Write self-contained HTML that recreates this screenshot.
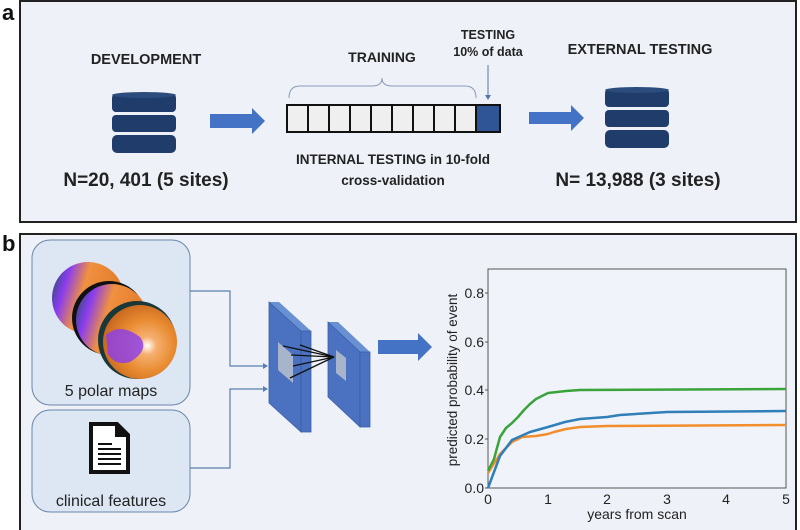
<!DOCTYPE html>
<html><head><meta charset="utf-8"><style>
html,body{margin:0;padding:0;background:#fff;}
svg{display:block;font-family:"Liberation Sans",sans-serif;}
</style></head><body>
<svg width="800" height="530" viewBox="0 0 800 530" xmlns="http://www.w3.org/2000/svg">
<defs>
<radialGradient id="pm" cx="0.6" cy="0.55" r="0.6">
<stop offset="0" stop-color="#fff"/><stop offset="0.2" stop-color="#f6b070"/><stop offset="0.6" stop-color="#e88a30"/><stop offset="1" stop-color="#c86820"/></radialGradient>
<linearGradient id="pm2" x1="0" y1="0" x2="1" y2="0.3">
<stop offset="0" stop-color="#1a5050"/><stop offset="0.25" stop-color="#8a3cf0"/><stop offset="0.5" stop-color="#f09040"/><stop offset="1" stop-color="#e07a28"/></linearGradient>
<g id="db">
<rect x="0" y="0" width="64" height="18" rx="4" fill="#1f3c6a"/>
<ellipse cx="32" cy="1" rx="32" ry="3" fill="#2d4c7e"/>
<rect x="0" y="21" width="64" height="17" rx="4" fill="#1f3c6a"/>
<rect x="0" y="41" width="64" height="18" rx="5" fill="#1f3c6a"/>
</g>
</defs>
<rect width="800" height="530" fill="#fff"/>
<!-- panel a -->
<text x="2" y="20" font-size="22" font-weight="bold" fill="#111">a</text>
<rect x="20" y="1" width="776" height="221" fill="#eef2f8" stroke="#222" stroke-width="2"/>
<text x="146" y="64" font-size="14.5" font-weight="bold" text-anchor="middle" fill="#222">DEVELOPMENT</text>
<use href="#db" x="112" y="94"/>
<polygon points="210,114 252,114 252,108 265,121 252,134 252,128 210,128" fill="#4472c4"/>
<text x="146" y="186" font-size="19" font-weight="bold" text-anchor="middle" fill="#222">N=20, 401 (5 sites)</text>
<text x="382" y="62" font-size="14" font-weight="bold" text-anchor="middle" fill="#222">TRAINING</text>
<path d="M289,98 Q289,86 300,86 L372,86 Q382,86 382,78 Q382,86 392,86 L465,86 Q476,86 476,98" fill="none" stroke="#8899bb" stroke-width="1"/>
<text x="488" y="39" font-size="12.5" font-weight="bold" text-anchor="middle" fill="#222">TESTING</text>
<text x="488" y="56" font-size="12.5" font-weight="bold" text-anchor="middle" fill="#222">10% of data</text>
<line x1="488" y1="65" x2="488" y2="96" stroke="#5577aa" stroke-width="1"/>
<polygon points="485,95 491,95 488,100" fill="#5577aa"/>
<g stroke="#111" stroke-width="2" fill="#efefef">
<rect x="287" y="105" width="21" height="27"/><rect x="308" y="105" width="21" height="27"/><rect x="329" y="105" width="21" height="27"/><rect x="350" y="105" width="21" height="27"/><rect x="371" y="105" width="21" height="27"/><rect x="392" y="105" width="21" height="27"/><rect x="413" y="105" width="21" height="27"/><rect x="434" y="105" width="21" height="27"/><rect x="455" y="105" width="21" height="27"/>
<rect x="476" y="105" width="24" height="27" fill="#2f5597"/>
</g>
<text x="393" y="164" font-size="13.5" font-weight="bold" text-anchor="middle" fill="#222">INTERNAL TESTING in 10-fold</text>
<text x="393" y="185" font-size="13.5" font-weight="bold" text-anchor="middle" fill="#222">cross-validation</text>
<polygon points="529,112 571,112 571,105 584,118 571,131 571,124 529,124" fill="#4472c4"/>
<text x="640" y="54" font-size="14.5" font-weight="bold" text-anchor="middle" fill="#222">EXTERNAL TESTING</text>
<use href="#db" x="605" y="89"/>
<text x="638" y="186" font-size="19" font-weight="bold" text-anchor="middle" fill="#222">N= 13,988 (3 sites)</text>
<!-- panel b -->
<text x="2" y="251" font-size="22" font-weight="bold" fill="#111">b</text>
<rect x="20" y="234" width="776" height="300" fill="#eef2f8" stroke="#222" stroke-width="2"/>
<rect x="32" y="240" width="158" height="165" rx="18" fill="#dce7f3" stroke="#6a86a8" stroke-width="1"/>
<rect x="32" y="410" width="158" height="102" rx="18" fill="#dce7f3" stroke="#6a86a8" stroke-width="1"/>
<circle cx="88" cy="298" r="36" fill="url(#pm2)"/>
<circle cx="109" cy="318" r="37" fill="#111"/>
<circle cx="112" cy="320" r="36" fill="url(#pm2)"/>
<circle cx="137" cy="340" r="39" fill="#1a3838"/>
<circle cx="140" cy="342" r="37" fill="url(#pm)"/>
<path d="M106,335 Q120,322 140,337 Q150,350 130,362 Q115,366 108,354Z" fill="#8a3cf0" opacity="0.8"/>
<text x="111" y="396" font-size="16" text-anchor="middle" fill="#222">5 polar maps</text>
<path d="M91,424 L117,424 L128,435 L128,472 L91,472 Z" fill="#fff" stroke="#111" stroke-width="4"/>
<path d="M115,424 L115,437 L128,437" fill="#111"/>
<g stroke="#111" stroke-width="2"><line x1="98" y1="444" x2="112" y2="444"/><line x1="98" y1="449" x2="121" y2="449"/><line x1="98" y1="454" x2="121" y2="454"/><line x1="98" y1="459" x2="121" y2="459"/><line x1="98" y1="464" x2="121" y2="464"/></g>
<text x="111" y="506" font-size="16" text-anchor="middle" fill="#222">clinical features</text>
<g fill="none" stroke="#5a7fae" stroke-width="1.2">
<polyline points="190,291 230,291 230,366 266,366"/>
<polyline points="190,468 230,468 230,389 266,389"/>
</g>
<polygon points="263,363 268,366 263,369" fill="#5a7fae"/>
<polygon points="263,386 268,389 263,392" fill="#5a7fae"/>
<!-- layer 1 -->
<polygon points="269,302 301,331 311,331 279,302" fill="#6a90d4"/>
<polygon points="269,302 301,331 301,432 269,403" fill="#4a72c0" stroke="#3a5ea8" stroke-width="0.8"/>
<rect x="301" y="331" width="10" height="101" fill="#4a72c0" stroke="#3a5ea8" stroke-width="0.8"/>
<polygon points="278,342 293,355 293,383 278,370" fill="#a8b4cc"/>
<!-- layer 2 -->
<polygon points="328,322 360,352 370,352 338,322" fill="#6a90d4"/>
<polygon points="328,322 360,352 360,427 328,397" fill="#4a72c0" stroke="#3a5ea8" stroke-width="0.8"/>
<rect x="360" y="352" width="10" height="75" fill="#4a72c0" stroke="#3a5ea8" stroke-width="0.8"/>
<polygon points="336,350 346,358 346,381 336,373" fill="#a8b4cc"/>
<g stroke="#111" stroke-width="1.3"><line x1="283" y1="346" x2="334" y2="357"/><line x1="291" y1="355" x2="334" y2="357"/><line x1="293" y1="366" x2="334" y2="357"/><line x1="290" y1="378" x2="334" y2="357"/><line x1="300" y1="345" x2="334" y2="357"/></g>
<polygon points="378,340 418,340 418,333 432,347 418,361 418,354 378,354" fill="#4472c4"/>
<!-- chart -->
<rect x="488" y="269" width="298" height="219" fill="#f0f3fa" stroke="#555" stroke-width="1"/>
<g font-size="14" fill="#222" text-anchor="end">
<text x="484" y="298">0.8</text><text x="484" y="347">0.6</text><text x="484" y="395">0.4</text><text x="484" y="444">0.2</text><text x="484" y="493">0.0</text>
</g>
<g stroke="#555"><line x1="485" y1="293" x2="488" y2="293"/><line x1="485" y1="342" x2="488" y2="342"/><line x1="485" y1="390" x2="488" y2="390"/><line x1="485" y1="439" x2="488" y2="439"/><line x1="485" y1="488" x2="488" y2="488"/></g>
<g font-size="14" fill="#222" text-anchor="middle">
<text x="488" y="504">0</text><text x="548" y="504">1</text><text x="607" y="504">2</text><text x="667" y="504">3</text><text x="726" y="504">4</text><text x="786" y="504">5</text>
</g>
<text x="637" y="519" font-size="14" text-anchor="middle" fill="#222">years from scan</text>
<text transform="translate(457,380) rotate(-90)" font-size="13.5" text-anchor="middle" fill="#222">predicted probability of event</text>
<g fill="none" stroke-width="2.5" stroke-linejoin="round">
<polyline stroke="#f28e2b" points="488,473 500,454 512,442 522,437 536,436 548,434 554,432 566,429 580,427 607,426 786,425"/>
<polyline stroke="#2f7fb8" points="488,488 500,456 512,440 530,432 548,427 565,422 580,419 607,417 620,415 667,412 786,411"/>
<polyline stroke="#3aa33a" points="488,471 494,459 500,437 506,428 512,423 518,417 524,410 530,404 536,399 542,396 548,393 566,391 580,390 786,389"/>
</g>
</svg>
</body></html>
